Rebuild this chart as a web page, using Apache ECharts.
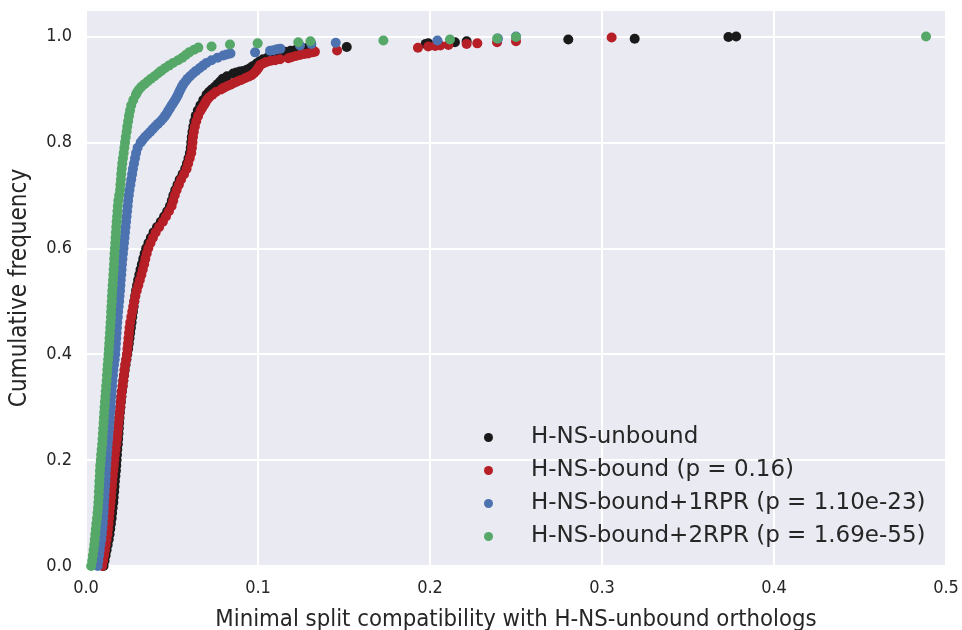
<!DOCTYPE html>
<html>
<head>
<meta charset="utf-8">
<script src="https://cdn.jsdelivr.net/npm/echarts@6/dist/echarts.min.js"></script>
<style>
  html, body { margin: 0; padding: 0; background: #ffffff; }
  #chart { width: 962px; height: 630px; }
</style>
</head>
<body>
<div id="chart"></div>
<script>
// Series labels (legend order)
const seriesNames = [
  'H-NS-unbound',
  'H-NS-bound (p = 0.16)',
  'H-NS-bound+1RPR (p = 1.10e-23)',
  'H-NS-bound+2RPR (p = 1.69e-55)'
];

// Empirical cumulative distributions: [minimal split compatibility, cumulative frequency]
const unboundPts = [
  [.0102,0],[.0108,.01],[.0114,.02],[.0120,.03],[.0126,.04],[.0132,.05],[.0137,.06],[.0141,.07],[.0145,.08],[.0149,.09],
  [.0152,.10],[.0155,.11],[.0159,.12],[.0161,.13],[.0164,.14],[.0166,.15],[.0168,.16],[.0171,.17],[.0174,.18],[.0176,.19],
  [.0178,.20],[.0180,.21],[.0182,.22],[.0185,.23],[.0187,.24],[.0189,.25],[.0191,.26],[.0193,.27],[.0195,.28],[.0197,.29],
  [.0200,.30],[.0203,.31],[.0206,.32],[.0209,.33],[.0213,.34],[.0217,.35],[.0221,.36],[.0225,.37],[.0230,.38],[.0235,.39],
  [.0240,.40],[.0245,.41],[.0249,.42],[.0253,.43],[.0257,.44],[.0261,.45],[.0265,.46],[.0269,.47],[.0273,.48],[.0277,.49],
  [.0281,.50],[.0286,.51],[.0291,.52],[.0297,.53],[.0303,.54],[.0310,.55],[.0317,.56],[.0325,.57],[.0333,.58],[.0341,.59],
  [.0350,.60],[.0363,.61],[.0377,.62],[.0393,.63],[.0413,.64],[.0435,.65],[.0454,.66],[.0472,.67],[.0488,.68],[.0499,.69],
  [.0508,.70],[.0519,.71],[.0532,.72],[.0545,.73],[.0562,.74],[.0577,.75],[.0587,.76],[.0596,.77],[.0604,.78],[.0609,.79],
  [.0612,.80],[.0615,.81],[.0619,.82],[.0624,.83],[.0630,.84],[.0638,.85],[.0650,.86],[.0665,.87],[.0682,.88],[.0701,.89],
  [.0715,.895],[.0730,.90],[.0750,.905],[.0765,.91],[.0780,.915],[.0795,.92],[.0820,.925],[.0856,.93],[.0875,.932],[.0895,.934],
  [.0915,.935],[.0935,.937],[.0953,.940],[.0970,.944],[.0992,.949],[.1010,.953],[.1030,.957],[.1060,.961],[.1090,.965],[.1120,.968],
  [.1157,.971],[.1190,.973],[.1225,.976],[.1255,.977],[.1280,.978],[.1310,.979],
  [.1516,.980],[.1975,.986],[.1990,.987],[.2145,.989],[.2213,.991],[.2804,.9943],[.3190,.9957],[.3735,.999],[.3780,1]
];

const boundPts = [
  [.0094,0],[.0100,.01],[.0105,.02],[.0110,.03],[.0115,.04],[.0120,.05],[.0125,.06],[.0128,.07],[.0131,.08],[.0134,.09],
  [.0137,.10],[.0140,.11],[.0143,.12],[.0146,.13],[.0148,.14],[.0151,.15],[.0153,.16],[.0156,.17],[.0159,.18],[.0162,.19],
  [.0165,.20],[.0168,.21],[.0172,.22],[.0176,.23],[.0180,.24],[.0183,.25],[.0186,.26],[.0189,.27],[.0192,.28],[.0195,.29],
  [.0199,.30],[.0202,.31],[.0205,.32],[.0209,.33],[.0213,.34],[.0217,.35],[.0221,.36],[.0224,.37],[.0228,.38],[.0234,.39],
  [.0238,.40],[.0241,.41],[.0244,.42],[.0247,.43],[.0250,.44],[.0253,.45],[.0257,.46],[.0263,.47],[.0269,.48],[.0275,.49],
  [.0281,.50],[.0287,.51],[.0295,.52],[.0304,.53],[.0313,.54],[.0322,.55],[.0330,.56],[.0338,.57],[.0345,.58],[.0353,.59],
  [.0362,.60],[.0375,.61],[.0389,.62],[.0405,.63],[.0425,.64],[.0447,.65],[.0465,.66],[.0482,.67],[.0498,.68],[.0507,.69],
  [.0516,.70],[.0527,.71],[.0540,.72],[.0553,.73],[.0570,.74],[.0585,.75],[.0594,.76],[.0603,.77],[.0612,.78],[.0616,.79],
  [.0619,.80],[.0622,.81],[.0627,.82],[.0633,.83],[.0641,.84],[.0652,.85],[.0666,.86],[.0675,.865],[.0685,.87],[.0694,.875],
  [.0703,.88],[.0716,.885],[.0735,.89],[.0755,.895],[.0785,.90],[.0800,.903],[.0820,.906],[.0840,.909],[.0860,.912],[.0880,.915],
  [.0902,.918],[.0924,.921],[.0944,.924],[.0963,.927],[.0978,.931],[.0992,.936],[.1003,.941],[.1012,.946],[.1030,.949],[.1050,.952],
  [.1075,.954],[.1100,.955],[.1128,.957],[.1176,.959],[.1195,.961],[.1220,.963],[.1244,.965],[.1270,.967],[.1292,.968],[.1315,.970],
  [.1331,.971],
  [.1460,.9736],[.1930,.9787],[.1990,.981],[.2030,.982],[.2060,.983],[.2107,.984],[.2213,.986],[.2275,.987],[.2390,.989],[.2500,.991],
  [.3056,.998]
];

const rpr1Pts = [
  [.0068,0],[.0072,.01],[.0076,.02],[.0080,.03],[.0084,.04],[.0089,.05],[.0092,.06],[.0095,.07],[.0098,.08],[.0100,.09],
  [.0102,.10],[.0104,.11],[.0105,.12],[.0107,.13],[.0109,.14],[.0111,.15],[.0113,.16],[.0115,.17],[.0116,.18],[.0118,.19],
  [.0120,.20],[.0122,.21],[.0124,.22],[.0126,.23],[.0129,.24],[.0131,.25],[.0134,.26],[.0136,.27],[.0138,.28],[.0141,.29],
  [.0143,.30],[.0145,.31],[.0147,.32],[.0150,.33],[.0152,.34],[.0154,.35],[.0157,.36],[.0159,.37],[.0163,.38],[.0167,.39],
  [.0170,.40],[.0172,.41],[.0174,.42],[.0176,.43],[.0178,.44],[.0180,.45],[.0182,.46],[.0185,.47],[.0187,.48],[.0190,.49],
  [.0193,.50],[.0195,.51],[.0198,.52],[.0200,.53],[.0202,.54],[.0205,.55],[.0207,.56],[.0209,.57],[.0212,.58],[.0215,.59],
  [.0218,.60],[.0221,.61],[.0224,.62],[.0227,.63],[.0230,.64],[.0233,.65],[.0236,.66],[.0239,.67],[.0242,.68],[.0245,.69],
  [.0249,.70],[.0253,.71],[.0258,.72],[.0263,.73],[.0268,.74],[.0273,.75],[.0279,.76],[.0285,.77],[.0291,.78],[.0300,.79],
  [.0318,.80],[.0330,.805],[.0343,.81],[.0358,.815],[.0374,.82],[.0388,.825],[.0402,.83],[.0418,.835],[.0434,.84],[.0448,.845],
  [.0460,.85],[.0470,.855],[.0479,.86],[.0489,.865],[.0498,.87],[.0508,.875],[.0518,.88],[.0527,.885],[.0535,.89],[.0542,.895],
  [.0549,.90],[.0557,.905],[.0566,.91],[.0578,.915],[.0590,.92],[.0605,.925],[.0622,.93],[.0640,.935],[.0660,.94],[.0680,.945],
  [.0700,.95],[.0730,.955],[.0765,.96],[.0798,.964],[.0818,.966],[.0840,.968],
  [.0983,.970],[.1070,.973],[.1090,.974],[.1110,.976],[.1130,.977],[.1244,.983],[.1310,.986],[.1452,.988],[.2043,.9925],[.2395,.996],
  [.2500,1]
];

const rpr2Pts = [
  [.0030,0],[.0036,.01],[.0040,.02],[.0044,.03],[.0048,.04],[.0051,.05],[.0054,.06],[.0057,.07],[.0060,.08],[.0064,.09],
  [.0067,.10],[.0070,.11],[.0072,.12],[.0074,.13],[.0075,.14],[.0077,.15],[.0078,.16],[.0080,.17],[.0081,.18],[.0083,.19],
  [.0086,.20],[.0088,.21],[.0091,.22],[.0094,.23],[.0096,.24],[.0098,.25],[.0100,.26],[.0102,.27],[.0104,.28],[.0106,.29],
  [.0108,.30],[.0110,.31],[.0113,.32],[.0115,.33],[.0117,.34],[.0120,.35],[.0122,.36],[.0124,.37],[.0126,.38],[.0129,.39],
  [.0131,.40],[.0133,.41],[.0135,.42],[.0137,.43],[.0139,.44],[.0141,.45],[.0143,.46],[.0145,.47],[.0146,.48],[.0148,.49],
  [.0150,.50],[.0151,.51],[.0153,.52],[.0155,.53],[.0157,.54],[.0159,.55],[.0161,.56],[.0163,.57],[.0164,.58],[.0166,.59],
  [.0168,.60],[.0170,.61],[.0172,.62],[.0174,.63],[.0176,.64],[.0178,.65],[.0181,.66],[.0183,.67],[.0185,.68],[.0188,.69],
  [.0193,.70],[.0198,.71],[.0200,.72],[.0203,.73],[.0205,.74],[.0208,.75],[.0211,.76],[.0215,.77],[.0219,.78],[.0223,.79],
  [.0227,.80],[.0231,.81],[.0236,.82],[.0240,.83],[.0245,.84],[.0250,.85],[.0256,.86],[.0263,.87],[.0275,.88],[.0290,.89],
  [.0298,.895],[.0308,.90],[.0322,.905],[.0340,.91],[.0358,.915],[.0378,.92],[.0398,.925],[.0418,.93],[.0437,.935],[.0458,.94],
  [.0482,.945],[.0506,.95],[.0535,.955],[.0560,.96],[.0580,.965],[.0600,.97],[.0628,.975],[.0653,.979],
  [.0730,.981],[.0837,.985],[.0998,.987],[.1234,.989],[.1305,.991],[.1729,.9925],[.2116,.9943],[.2390,.9962],[.2500,.999],[.4884,1]
];

// Axis ticks
const xTicks = [0, 0.1, 0.2, 0.3, 0.4, 0.5];
const yTicks = [0, 0.2, 0.4, 0.6, 0.8, 1.0];

const seriesData = [unboundPts, boundPts, rpr1Pts, rpr2Pts];
const seriesColors = ['#1a1a1a', '#b71f27', '#4c72b0', '#55a868'];

const textColor = '#262626';
const fontFamily = '"DejaVu Sans", "Liberation Sans", sans-serif';
const axisFont = '"DejaVu Sans Condensed", "Liberation Sans Narrow", "DejaVu Sans", sans-serif';

const chart = echarts.init(document.getElementById('chart'), null, { renderer: 'canvas' });

chart.setOption({
  animation: false,
  backgroundColor: '#ffffff',
  textStyle: { fontFamily: fontFamily, color: textColor },
  grid: {
    left: 86, right: 16, top: 10, bottom: 64,
    outerBoundsMode: 'none',
    containLabel: false,
    show: true,
    backgroundColor: '#eaeaf2',
    borderWidth: 0
  },
  legend: {
    orient: 'vertical',
    left: 479,
    top: 421,
    icon: 'circle',
    itemWidth: 9,
    itemHeight: 9,
    itemGap: 10,
    data: seriesNames,
    textStyle: {
      fontFamily: fontFamily,
      fontSize: 23,
      color: textColor,
      padding: [0, 0, 0, 33]
    }
  },
  xAxis: {
    type: 'value',
    min: xTicks[0],
    max: xTicks[xTicks.length - 1],
    interval: 0.1,
    name: 'Minimal split compatibility with H-NS-unbound orthologs',
    nameLocation: 'middle',
    nameGap: 42,
    nameTextStyle: { fontFamily: axisFont, fontSize: 23.7, color: textColor },
    axisLine: { show: false },
    axisTick: { show: false },
    axisLabel: {
      margin: 13,
      fontFamily: axisFont,
      fontSize: 18,
      color: textColor,
      formatter: v => v.toFixed(1)
    },
    splitLine: { show: true, lineStyle: { color: '#ffffff', width: 2 } }
  },
  yAxis: {
    type: 'value',
    min: yTicks[0],
    max: 1.05,
    interval: 0.2,
    name: 'Cumulative frequency',
    nameLocation: 'middle',
    nameGap: 54,
    nameTextStyle: { fontFamily: axisFont, fontSize: 24, color: textColor },
    axisLine: { show: false },
    axisTick: { show: false },
    axisLabel: {
      margin: 14,
      fontFamily: axisFont,
      fontSize: 18,
      color: textColor,
      formatter: v => (yTicks.some(t => Math.abs(t - v) < 1e-9) ? v.toFixed(1) : '')
    },
    splitLine: { show: true, lineStyle: { color: '#ffffff', width: 2 } }
  },
  series: seriesNames.map((name, i) => ({
    name: name,
    type: 'scatter',
    data: seriesData[i],
    symbol: 'circle',
    symbolSize: 10,
    itemStyle: { color: seriesColors[i], opacity: 1 },
    emphasis: { disabled: true }
  }))
});
</script>
</body>
</html>
